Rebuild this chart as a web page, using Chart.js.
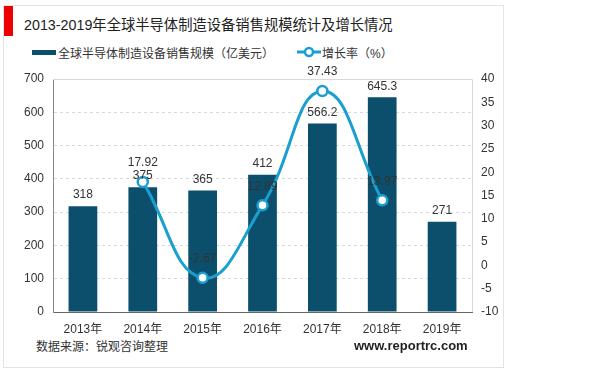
<!DOCTYPE html>
<html>
<head>
<meta charset="utf-8">
<script src="https://cdn.jsdelivr.net/npm/chart.js@4/dist/chart.umd.min.js"></script>
<style>
  body { margin: 0; background: #fff; }
  #card { position: absolute; left: 3px; top: 5px; width: 499px; height: 361px; border: 1px solid #e3e3e3; }
  #redbar { position: absolute; left: 4px; top: 6px; width: 9px; height: 30px; background: #ee0000; }
  .txt { position: absolute; white-space: nowrap; color: #222; font-family: "Liberation Sans", "Noto Sans CJK SC", sans-serif; }
  #title { left: 24px; top: 13px; font-size: 14.3px; }
  #source { left: 36px; top: 337px; font-size: 12px; color: #333; }
  #site { left: 354px; top: 338px; font-size: 13px; font-weight: bold; color: #222; }
  #leg1 { left: 58px; top: 44px; font-size: 12px; color: #333; }
  #leg1sw { position: absolute; left: 32px; top: 50px; width: 24px; height: 5px; background: #0b4f6c; }
  #leg2 { left: 322px; top: 44px; font-size: 12px; color: #333; }
  canvas { position: absolute; left: 0; top: 0; }
</style>
</head>
<body>
<div id="card"></div>
<div id="redbar"></div>
<div class="txt" id="title">2013-2019年全球半导体制造设备销售规模统计及增长情况</div>
<div id="leg1sw"></div>
<div class="txt" id="leg1">全球半导体制造设备销售规模（亿美元）</div>
<canvas id="leg2sw" width="26" height="14" style="left:296px;top:45px;"></canvas>
<div class="txt" id="leg2">增长率（%）</div>
<div class="txt" id="source">数据来源：锐观咨询整理</div>
<div class="txt" id="site">www.reportrc.com</div>
<canvas id="chart" width="600" height="371"></canvas>
<script>
const years = ['2013年', '2014年', '2015年', '2016年', '2017年', '2018年', '2019年'];
const sales = [318, 375, 365, 412, 566.2, 645.3, 271];
const growth = [null, 17.92, -2.67, 12.89, 37.43, 13.97, null];
const growthLabels = [null, '17.92', '-2.67', '12.89', '37.43', '13.97', null];

const BAR_COLOR = '#0b4f6c';
const LINE_COLOR = '#1a9fcf';
const FONT = '"Liberation Sans", "Noto Sans CJK SC", sans-serif';

// legend marker for the line series
const sw = document.getElementById('leg2sw').getContext('2d');
sw.strokeStyle = LINE_COLOR;
sw.lineWidth = 3;
sw.beginPath(); sw.moveTo(1, 7); sw.lineTo(25, 7); sw.stroke();
sw.fillStyle = '#fff';
sw.lineWidth = 2.5;
sw.beginPath(); sw.arc(13, 7, 4, 0, Math.PI * 2); sw.fill(); sw.stroke();

const valueLabels = {
    id: 'valueLabels',
    afterDatasetsDraw(chart) {
        const ctx = chart.ctx;
        ctx.save();
        ctx.font = '12px ' + FONT;
        ctx.fillStyle = '#333';
        ctx.textAlign = 'center';
        ctx.textBaseline = 'middle';
        chart.getDatasetMeta(1).data.forEach((el, i) => {
            ctx.fillText(String(sales[i]), el.x, el.y - 11);
        });
        chart.getDatasetMeta(0).data.forEach((el, i) => {
            if (growth[i] === null) return;
            ctx.fillText(growthLabels[i], el.x, el.y - 19);
        });
        ctx.restore();
    }
};

const frame = {
    id: 'frame',
    beforeDatasetsDraw(chart) {
        const a = chart.chartArea;
        const ctx = chart.ctx;
        ctx.save();
        ctx.strokeStyle = '#d9d9d9';
        ctx.lineWidth = 1;
        ctx.beginPath();
        ctx.moveTo(a.left, a.top + 0.5);
        ctx.lineTo(a.right + 0.5, a.top + 0.5);
        ctx.lineTo(a.right + 0.5, a.bottom);
        ctx.stroke();
        ctx.restore();
    }
};

new Chart(document.getElementById('chart'), {
    data: {
        labels: years,
        datasets: [
            {
                type: 'line',
                label: '增长率（%）',
                data: growth,
                yAxisID: 'y1',
                borderColor: LINE_COLOR,
                borderWidth: 3,
                tension: 0.45,
                pointRadius: 5,
                pointBorderWidth: 2.5,
                pointBackgroundColor: '#fff',
                pointBorderColor: LINE_COLOR,
                order: 0
            },
            {
                type: 'bar',
                label: '全球半导体制造设备销售规模（亿美元）',
                data: sales,
                yAxisID: 'y',
                backgroundColor: BAR_COLOR,
                barPercentage: 0.48,
                categoryPercentage: 1,
                order: 1
            }
        ]
    },
    options: {
        responsive: false,
        animation: false,
        devicePixelRatio: 1,
        layout: { padding: { top: 79, left: 0, right: 0, bottom: 0 } },
        plugins: { legend: { display: false }, tooltip: { enabled: false } },
        scales: {
            x: {
                grid: { display: false, drawTicks: false },
                border: { color: '#666', width: 1 },
                ticks: { color: '#333', font: { size: 12, family: FONT }, padding: 10, maxRotation: 0, autoSkip: false },
                afterFit(scale) { scale.height = 59; }
            },
            y: {
                position: 'left',
                min: 0, max: 700,
                ticks: { stepSize: 100, color: '#333', font: { size: 12, family: FONT }, padding: 9 },
                grid: { color: '#d9d9d9', drawTicks: false },
                border: { color: '#888', width: 1, dash: [3, 3], display: true },
                afterFit(scale) { scale.width = 53; }
            },
            y1: {
                position: 'right',
                min: -10, max: 40,
                ticks: { stepSize: 5, color: '#333', font: { size: 12, family: FONT }, padding: 9 },
                grid: { display: false, drawTicks: false },
                border: { display: false },
                afterFit(scale) { scale.width = 128; }
            }
        }
    },
    plugins: [frame, valueLabels]
});
</script>
</body>
</html>
